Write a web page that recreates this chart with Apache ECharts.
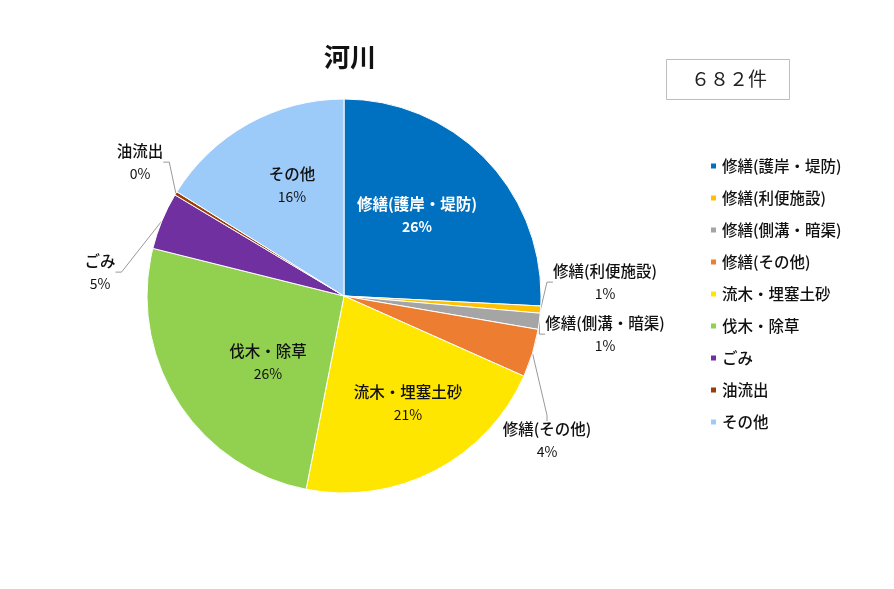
<!DOCTYPE html>
<html><head><meta charset="utf-8">
<script src="https://cdn.jsdelivr.net/npm/echarts@6/dist/echarts.min.js"></script>
<style>html,body{margin:0;padding:0;background:#fff}#c{width:894px;height:589px}</style>
</head><body><div id="c"></div>
<script>
const categories = ['修繕(護岸・堤防)','修繕(利便施設)','修繕(側溝・暗渠)','修繕(その他)','流木・埋塞土砂','伐木・除草','ごみ','油流出','その他'];
const counts = [176, 4, 9, 27, 146, 176, 32, 2, 110];
const colors = ['#0070C0','#FFC000','#A5A5A5','#ED7D31','#FFE600','#92D050','#7030A0','#9A3D0A','#9DCBF9'];
const titleText = '河川';
const totalText = '６８２件';

const FONT = '"Noto Sans CJK JP", sans-serif';
const NUMFONT = '"Liberation Sans Narrow", "Noto Sans CJK JP", sans-serif';
const insideSet = new Set([0,4,5,8]);
const labelPos = [[417,215],[605,282],[605,334],[547,440],[408,403],[268,362],[100,272],[140,162],[292,185]];

const data = categories.map((c,i)=>({
  name:c, value:counts[i],
  itemStyle:{color:colors[i]},
  label:{position: insideSet.has(i)?'inside':'outside', color: i===0?'#fff':'#111',
    rich: i===0 ? {n:{fontWeight:'bold',color:'#fff'},p:{fontWeight:'bold',color:'#fff'}} : undefined},
  labelLine:{show: !insideSet.has(i)}
}));

const chart = echarts.init(document.getElementById('c'));
chart.setOption({
  backgroundColor:'#fff',
  animation:false,
  title:{text:titleText,left:345,top:39,textAlign:'center',textStyle:{fontFamily:FONT,fontSize:26,fontWeight:'bold',color:'#111'}},
  legend:{orient:'vertical',left:704,top:153,itemWidth:7,itemHeight:7,itemGap:16,icon:'rect',
    textStyle:{fontFamily:FONT,fontSize:15.5,lineHeight:16,color:'#111',fontWeight:500},data:categories},
  graphic:[
    {type:'rect',shape:{x:666.5,y:59.5,width:123,height:40},style:{fill:'#fff',stroke:'#bdbdbd',lineWidth:1}},
    {type:'text',x:729,y:79,style:{text:totalText,font:'19px '+FONT,fill:'#222',align:'center',verticalAlign:'middle'}}
  ],
  series:[{
    type:'pie',center:[344,296],radius:197,startAngle:90,clockwise:true,
    percentPrecision:0,
    itemStyle:{borderColor:'#fff',borderWidth:1},
    label:{fontFamily:FONT,formatter:'{n|{b}}\n{p|{d}%}',align:'center',
      rich:{n:{fontSize:15.5,fontWeight:500,lineHeight:24,fontFamily:FONT},p:{fontSize:14,fontWeight:'normal',lineHeight:22,fontFamily:NUMFONT}}},
    labelLine:{lineStyle:{color:'#999',width:1},length:12,length2:6},
    labelLayout:function(p){const q=labelPos[p.dataIndex];return {x:q[0],y:q[1],align:'center',verticalAlign:'middle'};},
    data:data
  }]
});
</script></body></html>
